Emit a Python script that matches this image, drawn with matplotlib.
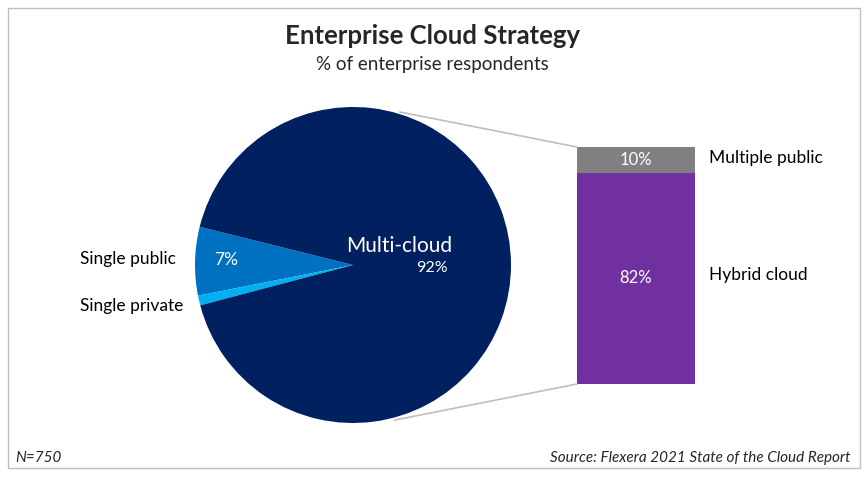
import matplotlib.pyplot as plt
from matplotlib.patches import Rectangle

plt.rcParams['font.family'] = ['Lato', 'DejaVu Sans']

# pie data
pie_labels = ['Single public', 'Single private', 'Multi-cloud']
pie_values = [7, 1, 92]
pie_colors = ['#0070C0', '#00B0F0', '#002060']

# breakdown of multi-cloud (bar)
bar_labels = ['Hybrid cloud', 'Multiple public']
bar_values = [82, 10]
bar_colors = ['#7030A0', '#808080']

W, H = 865, 479
fig = plt.figure(figsize=(W / 100, H / 100), dpi=100)
ax = fig.add_axes([0, 0, 1, 1])


def py(y):
    # pixel row -> axis y
    return H - y


cx, cy, r = 353, py(265), 158
wedges, _ = ax.pie(pie_values, colors=pie_colors, center=(cx, cy), radius=r,
                   startangle=166, counterclock=True, frame=True)
ax.set_xlim(0, W)
ax.set_ylim(0, H)
ax.set_aspect('equal')
ax.axis('off')

# frame
ax.add_patch(Rectangle((8, py(468)), 852, 460, fill=False, ec='#BFBFBF', lw=1))

ax.text(433, py(36), 'Enterprise Cloud Strategy', ha='center', va='center',
        fontsize=18.5, fontweight='bold', color='#262626')
ax.text(432, py(64), '% of enterprise respondents', ha='center', va='center',
        fontsize=13.5, color='#262626')

ax.text(226, py(260), '7%', ha='center', va='center', fontsize=12.5, color='white')
ax.text(399, py(246), 'Multi-cloud', ha='center', va='center', fontsize=15, color='white')
ax.text(432, py(268), '92%', ha='center', va='center', fontsize=11.5, color='white')
ax.text(80, py(259), pie_labels[0], ha='left', va='center', fontsize=12.5, color='black')
ax.text(80, py(306), pie_labels[1], ha='left', va='center', fontsize=12.5, color='black')

# bar of pie
bx, bw = 636, 118
bar_bottom = py(384)
scale = (384 - 147) / sum(bar_values)
bottom = bar_bottom
for lab, val, col in zip(bar_labels, bar_values, bar_colors):
    h = val * scale
    ax.bar(bx, h, width=bw, bottom=bottom, color=col, edgecolor='none')
    ax.text(bx, bottom + h / 2, f'{val}%', ha='center', va='center',
            fontsize=12, color='white')
    bottom += h
ax.text(709, py(275), bar_labels[0], ha='left', va='center', fontsize=12.5, color='black')
ax.text(709, py(158), bar_labels[1], ha='left', va='center', fontsize=12.5, color='black')

# connector lines
ax.plot([400, bx - bw / 2], [py(112), py(147)], color='#BFBFBF', lw=1.2)
ax.plot([395, bx - bw / 2], [py(420), py(384)], color='#BFBFBF', lw=1.2)

ax.text(15, py(458), 'N=750', ha='left', va='center', fontsize=11,
        style='italic', color='#262626')
ax.text(851, py(458), 'Source: Flexera 2021 State of the Cloud Report', ha='right',
        va='center', fontsize=11, style='italic', color='#262626')

fig.savefig('out.png', dpi=100)
